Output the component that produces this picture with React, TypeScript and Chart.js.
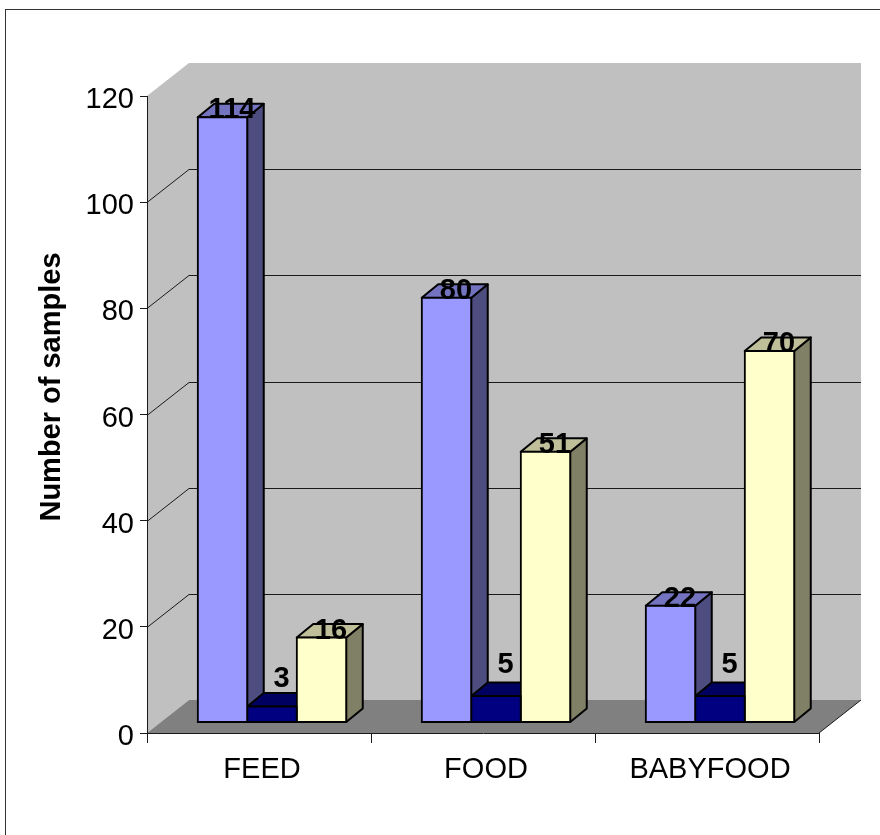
import { useEffect, useRef } from "react";
import { Chart, registerables } from "chart.js";

Chart.register(...registerables);

const categories = ["FEED", "FOOD", "BABYFOOD"];
const seriesA = [114, 80, 22];
const seriesB = [3, 5, 5];
const seriesC = [16, 51, 70];
const yMax = 120;
const yStep = 20;

const frontColors = ["#9999FF", "#000080", "#FFFFCC"];
const topColors = ["#7373BF", "#000060", "#BFBF99"];
const sideColors = ["#4D4D80", "#000040", "#808066"];

const FONT = '"Liberation Sans", Arial, sans-serif';
const WALL = "#C0C0C0";
const FLOOR = "#808080";
const LINE = "#1a1a1a";

// Projection of the box: the back wall sits up and right of the axis plane,
// the bars stand on a plane part of the way in, and have their own depth.
const WALL_DX = 42;
const WALL_DY = -33;
const BAR_PLANE_DX = 13;
const BAR_PLANE_DY = -10.5;
const BAR_DX = 16.5;
const BAR_DY = -13.5;

const poly = (ctx: CanvasRenderingContext2D, pts: number[][], fill?: string, stroke?: string, lw = 1) => {
  ctx.beginPath();
  pts.forEach(([x, y], i) => (i ? ctx.lineTo(x, y) : ctx.moveTo(x, y)));
  ctx.closePath();
  if (fill) {
    ctx.fillStyle = fill;
    ctx.fill();
  }
  if (stroke) {
    ctx.strokeStyle = stroke;
    ctx.lineWidth = lw;
    ctx.lineJoin = "round";
    ctx.stroke();
  }
};

const segment = (ctx: CanvasRenderingContext2D, x0: number, y0: number, x1: number, y1: number) => {
  ctx.beginPath();
  ctx.moveTo(x0, y0);
  ctx.lineTo(x1, y1);
  ctx.strokeStyle = LINE;
  ctx.lineWidth = 1;
  ctx.stroke();
};

// Outer frame, walls, floor, gridlines and the rotated axis title.
const boxPlugin = {
  id: "box3d",
  beforeDraw(chart: any) {
    const { ctx, chartArea: a, scales } = chart;
    const { left: l, right: r, top: t, bottom: b } = a;
    const dx = WALL_DX;
    const dy = WALL_DY;
    ctx.save();
    ctx.fillStyle = "#FFFFFF";
    ctx.fillRect(0, 0, chart.width, chart.height);
    ctx.strokeStyle = "#333333";
    ctx.lineWidth = 1;
    ctx.strokeRect(5.5, 9.5, chart.width + 20, chart.height + 20);

    poly(ctx, [[l + dx, t + dy], [r + dx, t + dy], [r + dx, b + dy], [l + dx, b + dy]], WALL);
    poly(ctx, [[l, t], [l + dx, t + dy], [l + dx, b + dy], [l, b]], WALL);
    poly(ctx, [[l, b], [r, b], [r + dx, b + dy], [l + dx, b + dy]], FLOOR);

    for (let v = yStep; v < yMax; v += yStep) {
      const y = Math.round(scales.y.getPixelForValue(v)) + 0.5;
      segment(ctx, l, y, l + dx, y + dy);
      segment(ctx, l + dx, y + dy, r + dx, y + dy);
    }
    segment(ctx, r, b, r + dx, b + dy);
    ctx.restore();
  },
  beforeDatasetsDraw(chart: any) {
    const { ctx } = chart;
    ctx.save();
    ctx.translate(BAR_PLANE_DX, BAR_PLANE_DY);
    // Depth faces go in first, left to right; the front faces follow on top.
    [0, 1, 2].forEach((di) => {
      chart.getDatasetMeta(di).data.forEach((bar: any) => {
        const x0 = bar.x - bar.width / 2;
        const x1 = bar.x + bar.width / 2;
        const yt = bar.y;
        const yb = bar.base;
        poly(ctx, [[x1, yt], [x1 + BAR_DX, yt + BAR_DY], [x1 + BAR_DX, yb + BAR_DY], [x1, yb]], sideColors[di], "#000000", 2);
        poly(ctx, [[x0, yt], [x1, yt], [x1 + BAR_DX, yt + BAR_DY], [x0 + BAR_DX, yt + BAR_DY]], topColors[di], "#000000", 2);
      });
    });
  },
  afterDatasetsDraw(chart: any) {
    const { ctx } = chart;
    // Values sit over the top face; the low dark bars carry theirs higher up.
    ctx.font = `bold 29px ${FONT}`;
    ctx.fillStyle = "#000000";
    ctx.textAlign = "center";
    ctx.textBaseline = "middle";
    [0, 1, 2].forEach((di) => {
      const ds = chart.data.datasets[di];
      chart.getDatasetMeta(di).data.forEach((bar: any, i: number) => {
        const lift = di === 1 ? (ds.data[i] === 3 ? 29 : 32) : 8;
        ctx.fillText(String(ds.data[i]), bar.x + 9.5, bar.y - lift + 1);
      });
    });
    ctx.restore();

    ctx.save();
    ctx.translate(52, 387);
    ctx.rotate(-Math.PI / 2);
    ctx.font = `bold 29px ${FONT}`;
    ctx.fillStyle = "#000000";
    ctx.textAlign = "center";
    ctx.textBaseline = "middle";
    ctx.fillText("Number of samples", 0, 0);
    ctx.restore();
  },
};

const pinLeft = (scale: any) => {
  scale.width = 147;
  scale.paddingTop = 0;
  scale.paddingBottom = 0;
};
const pinBottom = (scale: any) => {
  scale.height = 102;
  scale.paddingLeft = 0;
  scale.paddingRight = 0;
};

export default function App() {
  const ref = useRef<HTMLCanvasElement>(null);
  useEffect(() => {
    const barStyle = {
      borderColor: "#000000",
      borderWidth: 2,
      borderSkipped: false,
      inflateAmount: 1,
      clip: false,
      categoryPercentage: 148.5 / 224,
      barPercentage: 1,
    };
    const chart = new Chart(ref.current!, {
      type: "bar",
      data: {
        labels: categories,
        datasets: [
          { label: "A", data: seriesA, backgroundColor: frontColors[0], ...barStyle },
          { label: "B", data: seriesB, backgroundColor: frontColors[1], ...barStyle },
          { label: "C", data: seriesC, backgroundColor: frontColors[2], ...barStyle },
        ] as any,
      },
      options: {
        responsive: false,
        animation: false,
        layout: { padding: { left: 0, right: 61, top: 96, bottom: 0 } },
        plugins: { legend: { display: false }, tooltip: { enabled: false } },
        scales: {
          x: {
            offset: true,
            afterFit: pinBottom,
            border: { color: LINE, width: 1 },
            grid: { drawOnChartArea: false, offset: true, color: LINE, tickLength: 10 },
            ticks: { color: "#000000", padding: 10, labelOffset: 3, font: { family: FONT, size: 29 }, maxRotation: 0 },
          },
          y: {
            min: 0,
            max: yMax,
            afterFit: pinLeft,
            border: { color: LINE, width: 1 },
            grid: { drawOnChartArea: false, color: LINE, tickLength: 7 },
            ticks: { color: "#000000", padding: 6, labelOffset: 4, stepSize: yStep, font: { family: FONT, size: 29 } },
          },
        },
      } as any,
      plugins: [boxPlugin],
    });
    return () => chart.destroy();
  }, []);
  return (
    <canvas
      ref={ref}
      width={880}
      height={835}
      style={{ position: "absolute", left: 0, top: 0, display: "block" }}
    />
  );
}
